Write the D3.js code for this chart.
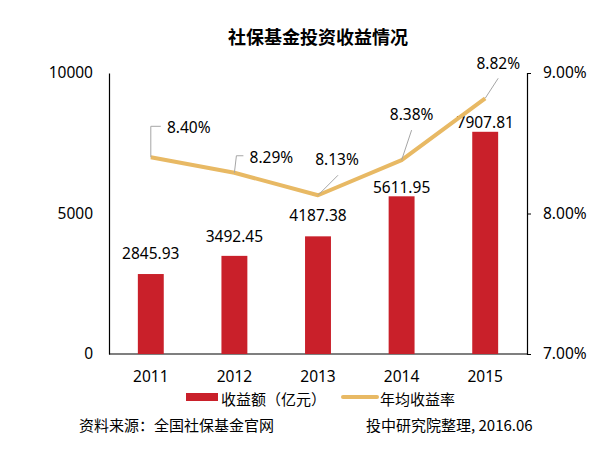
<!DOCTYPE html>
<html>
<head>
<meta charset="utf-8">
<script src="https://cdn.jsdelivr.net/npm/d3@7"></script>
<style>
  body { margin: 0; background: #fff; }
  svg text { font-family: "Noto Sans", "Noto Sans CJK SC", sans-serif; fill: #000; }
  .cjk { font-family: "Noto Sans CJK SC", sans-serif; }
</style>
</head>
<body>
<svg id="chart" width="610" height="454"></svg>
<script>
const years = ['2011', '2012', '2013', '2014', '2015']
const income = [2845.93, 3492.45, 4187.38, 5611.95, 7907.81]
const rate = [8.40, 8.29, 8.13, 8.38, 8.82]
const leftTicks = [0, 5000, 10000]
const rightTicks = [7, 8, 9]

// hand-placed label layout (pixels relative to the mark)
const barLabelDy = [-15, -14, -15, -3, -4]
const rateLabelPos = [[38, -30], [37, -16], [19, -36], [10, -46], [13, -35]]
const leaders = [
    [[0, 0], [0, -31], [10, -31]],
    [[0, 0], [2, -17], [9, -17]],
    [[0, 0], [20, -20]],
    [[0, 0], [10, -30]],
    [[0, 0], [13, -20]]
]

const red = '#c9202a'
const gold = '#e8b964'

const svg = d3.select('#chart')
const plotL = 109, plotR = 527, plotT = 73, plotB = 354

const x = d3.scaleBand().domain(years).range([plotL, plotR]).paddingInner(0.69).paddingOuter(0.345)
const y = d3.scaleLinear().domain([0, 10000]).range([plotB, plotT])
const y2 = d3.scaleLinear().domain([7, 9]).range([plotB, plotT])
const cx = d => x(d) + x.bandwidth() / 2

svg.append('text')
    .attr('class', 'cjk')
    .attr('x', (plotL + plotR) / 2).attr('y', 44)
    .attr('text-anchor', 'middle')
    .style('font-size', '18px').style('font-weight', 'bold')
    .text('社保基金投资收益情况')

// axes
const gl = svg.append('g').attr('transform', `translate(${plotL},0)`)
    .call(d3.axisLeft(y).tickValues(leftTicks).tickSize(0).tickPadding(16).tickFormat(d3.format('d')))
const gr = svg.append('g').attr('transform', `translate(${plotR},0)`)
    .call(d3.axisRight(y2).tickValues(rightTicks).tickSize(4).tickPadding(12).tickFormat(d => d.toFixed(2) + '%'))
const gb = svg.append('g').attr('transform', `translate(0,${plotB})`)
    .call(d3.axisBottom(x).tickSize(0).tickPadding(17))

for (const g of [gl, gr, gb]) {
    g.select('.domain').attr('stroke', '#000').attr('stroke-width', 1.2)
    g.selectAll('.tick line').attr('stroke', '#000')
    g.selectAll('text').style('font-size', '15.5px').attr('font-family', null)
}
gb.select('.domain').attr('d', `M${plotL},0H${plotR}`)

// bars
svg.selectAll('rect.bar').data(income).enter()
    .append('rect')
    .attr('class', 'bar')
    .attr('x', (d, i) => x(years[i]))
    .attr('y', d => y(d))
    .attr('width', x.bandwidth())
    .attr('height', d => plotB - y(d))
    .attr('fill', red)

svg.selectAll('text.blab').data(income).enter()
    .append('text')
    .attr('class', 'blab')
    .attr('x', (d, i) => cx(years[i]))
    .attr('y', (d, i) => y(d) + barLabelDy[i])
    .attr('text-anchor', 'middle')
    .style('font-size', '15.5px')
    .text(d => d.toFixed(2))

// rate line
const line = d3.line().x((d, i) => cx(years[i])).y(d => y2(d))
svg.append('path')
    .datum(rate)
    .attr('d', line)
    .attr('fill', 'none')
    .attr('stroke', gold)
    .attr('stroke-width', 4)
    .attr('stroke-linejoin', 'round')

svg.selectAll('path.leader').data(rate).enter()
    .append('path')
    .attr('class', 'leader')
    .attr('d', (d, i) => d3.line()(leaders[i].map(p => [cx(years[i]) + p[0], y2(d) + p[1]])))
    .attr('fill', 'none')
    .attr('stroke', '#a6a6a6')
    .attr('stroke-width', 1)

svg.selectAll('text.rlab').data(rate).enter()
    .append('text')
    .attr('class', 'rlab')
    .attr('x', (d, i) => cx(years[i]) + rateLabelPos[i][0])
    .attr('y', (d, i) => y2(d) + rateLabelPos[i][1])
    .attr('text-anchor', 'middle')
    .attr('dominant-baseline', 'central')
    .style('font-size', '15.5px')
    .text(d => d.toFixed(2) + '%')

// legend
const lg = svg.append('g')
lg.append('rect').attr('x', 186).attr('y', 393).attr('width', 32).attr('height', 8).attr('fill', red)
lg.append('text').attr('class', 'cjk').attr('x', 221).attr('y', 398)
    .attr('dominant-baseline', 'central').style('font-size', '15px').text('收益额（亿元）')
lg.append('line').attr('x1', 343).attr('x2', 377).attr('y1', 397).attr('y2', 397)
    .attr('stroke', gold).attr('stroke-width', 4).attr('stroke-linecap', 'round')
lg.append('text').attr('class', 'cjk').attr('x', 380).attr('y', 398)
    .attr('dominant-baseline', 'central').style('font-size', '15px').text('年均收益率')

svg.append('text').attr('class', 'cjk').attr('x', 79).attr('y', 424)
    .attr('dominant-baseline', 'central').style('font-size', '15px').text('资料来源：全国社保基金官网')
svg.append('text').attr('class', 'cjk').attr('x', 366).attr('y', 424)
    .attr('dominant-baseline', 'central').style('font-size', '15px').text('投中研究院整理, 2016.06')
</script>
</body>
</html>
